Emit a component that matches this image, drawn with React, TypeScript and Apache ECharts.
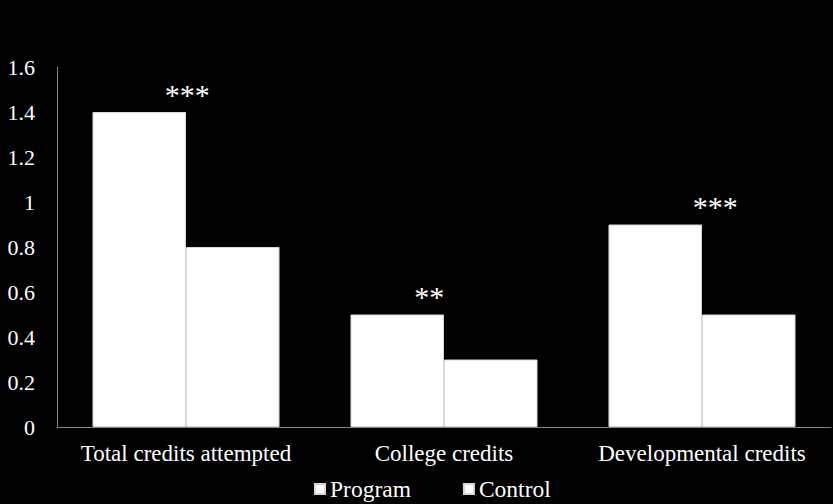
import React, { useEffect, useRef } from "react";
import * as echarts from "echarts";

const categories = ["Total credits attempted", "College credits", "Developmental credits"];
const programValues = [1.4, 0.5, 0.9];
const controlValues = [0.8, 0.3, 0.5];
const significance = ["***", "**", "***"];
const sigOffsets = [48, 32, 60];

export default function App() {
  const ref = useRef<HTMLDivElement>(null);
  useEffect(() => {
    document.body.style.margin = "0";
    document.body.style.overflow = "hidden";
    document.body.style.background = "#000000";
    const chart = echarts.init(ref.current!, null, { renderer: "svg" });
    const font = "'Liberation Serif', 'Times New Roman', serif";
    chart.setOption({
      animation: false,
      backgroundColor: "#000000",
      textStyle: { fontFamily: font },
      grid: { left: 57, right: 2, top: 67, bottom: 77, containLabel: false },
      legend: {
        bottom: -2,
        left: 309,
        itemWidth: 10,
        itemHeight: 10,
        itemGap: 52,
        itemTextGap: 5,
        icon: "rect",
        textStyle: { color: "#ffffff", fontSize: 23.5, fontFamily: font },
        data: ["Program", "Control"],
      },
      xAxis: {
        type: "category",
        data: categories,
        axisLine: { lineStyle: { color: "#868686", width: 1 } },
        axisTick: { show: false },
        axisLabel: { color: "#ffffff", fontSize: 23, fontFamily: font, margin: 15, interval: 0 },
      },
      yAxis: {
        type: "value",
        min: 0,
        max: 1.6,
        interval: 0.2,
        axisLine: { show: true, lineStyle: { color: "#868686", width: 1 } },
        axisTick: { show: false },
        splitLine: { show: false },
        axisLabel: { color: "#ffffff", fontSize: 22, fontFamily: font, margin: 22 },
      },
      series: [
        {
          name: "Program",
          type: "bar",
          barGap: "0%",
          barCategoryGap: "27.5%",
          itemStyle: { color: "#ffffff", borderColor: "#d9d9d9", borderWidth: 1 },
          data: programValues.map((v, i) => ({
            value: v,
            label: {
              show: true,
              position: "top",
              formatter: significance[i],
              offset: [sigOffsets[i], 2],
              color: "#ffffff",
              fontSize: 30,
              fontFamily: font,
            },
          })),
        },
        {
          name: "Control",
          type: "bar",
          barGap: "0%",
          barCategoryGap: "27.5%",
          itemStyle: { color: "#ffffff", borderColor: "#d9d9d9", borderWidth: 1 },
          data: controlValues,
        },
      ],
    });
    return () => chart.dispose();
  }, []);
  return <div ref={ref} style={{ width: 833, height: 504 }} />;
}
